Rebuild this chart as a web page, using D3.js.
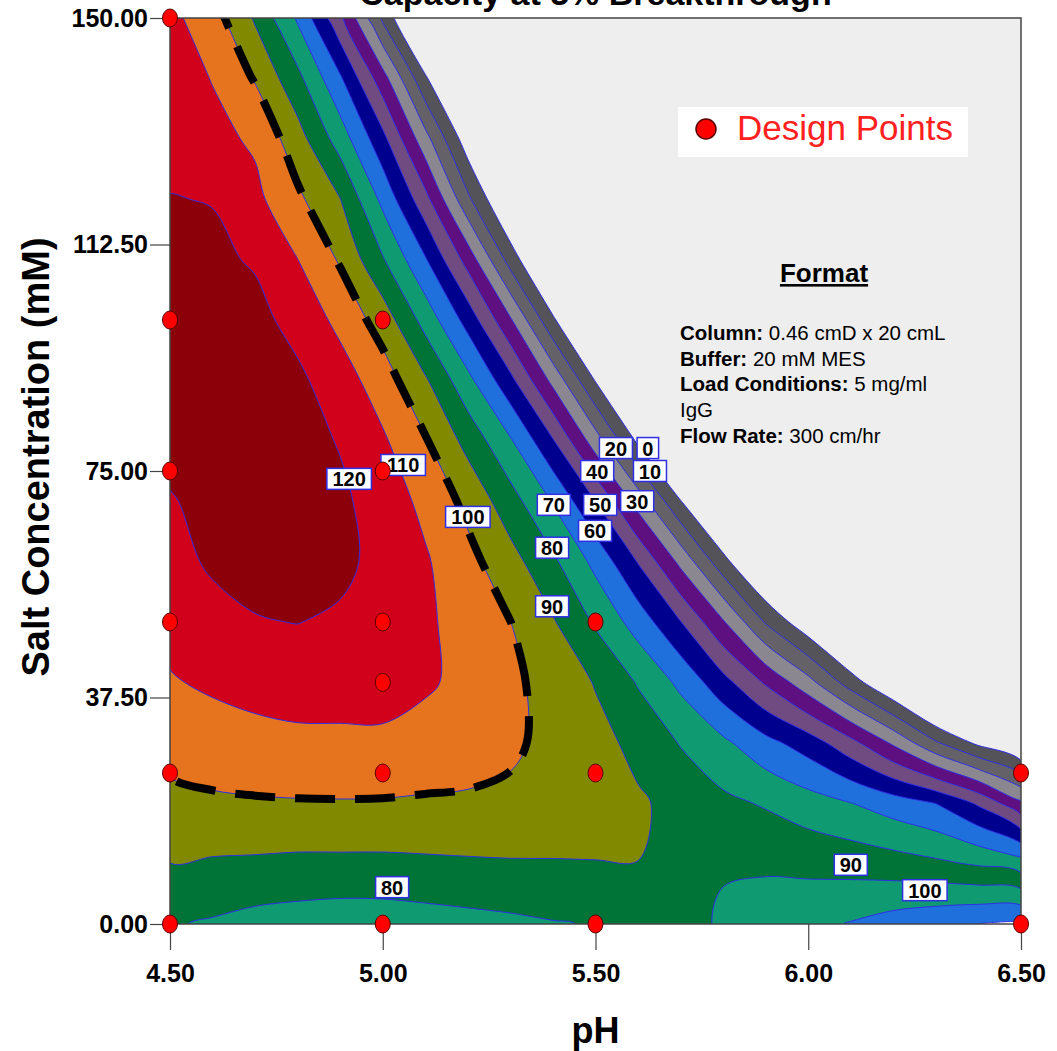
<!DOCTYPE html>
<html>
<head>
<meta charset="utf-8">
<script src="https://cdn.jsdelivr.net/npm/d3@7"></script>
<style>
  html, body { margin: 0; padding: 0; background: #fff; }
  svg { display: block; font-family: Arial, "Liberation Sans", sans-serif; }
</style>
</head>
<body>
<svg id="chart" width="1057" height="1051"></svg>
<script>
// Capacity at 5% breakthrough — contour plot over pH x salt

// grid: columns are pH, rows are salt (top row first)
const phValues = [4.5, 4.6, 4.7, 4.8, 4.9, 5.0, 5.1, 5.2, 5.3, 5.4, 5.5, 5.6, 5.7, 5.8, 5.9, 6.0, 6.1, 6.2, 6.3, 6.4, 6.5];
const saltValues = [150, 140, 130, 120, 110, 100, 90, 80, 70, 60, 50, 40, 30, 20, 10, 0];
const capacity = [
  [112.5, 104.5, 88.7, 68.5, 42.2, 8, -22.4, -52.7, -83, -100, -100, -100, -100, -100, -100, -100, -100, -100, -100, -100, -100],
  [115, 109.6, 99.2, 82.8, 61.3, 34.1, 1.6, -26, -53.8, -81.4, -100, -100, -100, -100, -100, -100, -100, -100, -100, -100, -100],
  [117.2, 112.8, 108.5, 94.1, 75.4, 52.9, 23.5, -6.2, -33, -60, -87, -100, -100, -100, -100, -100, -100, -100, -100, -100, -100],
  [120.3, 119.65, 112.5, 102, 90.2, 67.4, 43.3, 12.1, -14.3, -40.3, -66, -92, -100, -100, -100, -100, -100, -100, -100, -100, -100],
  [123.5, 122, 119, 110.1, 98.9, 80.9, 60.9, 36.1, 5.7, -19.8, -45.3, -70.8, -96, -100, -100, -100, -100, -100, -100, -100, -100],
  [125, 124.8, 123, 116.6, 107.4, 95.5, 76.3, 56.2, 31.2, 1.7, -22.9, -47.6, -72.3, -97, -100, -100, -100, -100, -100, -100, -100],
  [125.2, 125.8, 125.3, 122, 114.6, 104.9, 91.3, 72.9, 52.8, 27.2, -0.6, -24.4, -48.2, -72, -96, -100, -100, -100, -100, -100, -100],
  [123.3, 125.5, 125.5, 124, 119.3, 111.4, 100.9, 86.8, 71.1, 50.8, 24.7, -1.9, -25.4, -48.8, -72, -95, -100, -100, -100, -100, -100],
  [119.2, 123.2, 124.5, 124, 122, 115.3, 107.6, 97.3, 84.2, 69.1, 49.9, 25.7, 0.4, -20, -40, -60, -80, -100, -100, -100, -100],
  [116.5, 121.5, 123, 123.3, 122.5, 116.8, 111.1, 103, 93.7, 81.9, 67.2, 49.4, 27.4, 3.3, -17, -35.4, -55, -76, -96, -100, -100],
  [113, 116.5, 119.5, 120.2, 118.5, 114.4, 111.4, 106.6, 100.1, 90.9, 78.7, 65.6, 50.3, 31, 9, -7.6, -25.3, -48, -71, -90, -95],
  [109.2, 111.5, 113.2, 114, 114.2, 114.3, 111.6, 106.9, 102.1, 96.3, 89.4, 79.2, 67.7, 53.5, 38.8, 23.4, 5.1, -11.8, -30, -45.8, -53],
  [104, 105.5, 107, 108, 108, 108, 105.5, 104, 101.5, 97.6, 93.1, 87.4, 79.4, 72, 63, 55.2, 43.1, 28.3, 11.2, -2.3, -12.8],
  [97, 98.5, 99, 99.3, 99.4, 99.3, 99, 98.8, 98.3, 96.5, 94.5, 91.2, 87.2, 82.3, 79, 74.4, 70.2, 65, 59.8, 48.5, 31.8],
  [89.9, 88.9, 88.45, 87.8, 87.8, 87.8, 88.3, 88.8, 89.2, 89.4, 89.7, 89.94, 89.7, 89.5, 89, 87.6, 86.2, 84.3, 81.9, 78.9, 74.4],
  [80.8, 78.9, 76.5, 75.3, 74.3, 74.5, 75.6, 76.8, 77.95, 79.4, 80.5, 84, 87.8, 90.8, 93.6, 97, 100.6, 104.5, 107.5, 110.2, 111.6]
];

const levels = [0, 10, 20, 30, 40, 50, 60, 70, 80, 90, 100, 110, 120];
const bandColors = ["#545359", "#646169", "#8b8791", "#5e0f80", "#6f4b82", "#00008e", "#1f6fdd",
                    "#0f9a72", "#007337", "#808900", "#e6731e", "#d1001b", "#8b0009"];
// the low-salt / high-pH corner is shaded with its own colours
const cornerColors = { 90: "#0f9a72", 100: "#1f6fdd", 110: "#ffffff" };

const designPoints = [
  [4.5, 150], [4.5, 100], [4.5, 75], [4.5, 50], [4.5, 25], [4.5, 0],
  [5.0, 100], [5.0, 75], [5.0, 50], [5.0, 40], [5.0, 25], [5.0, 0],
  [5.5, 50], [5.5, 25], [5.5, 0],
  [6.5, 25], [6.5, 0]
];

const phTicks = [4.5, 5.0, 5.5, 6.0, 6.5];
const saltTicks = [0, 37.5, 75, 112.5, 150];

const contourLabels = [
  { level: 120, ph: 4.921, salt: 73.7 },
  { level: 110, ph: 5.048, salt: 76.0 },
  { level: 100, ph: 5.200, salt: 67.4 },
  { level: 90, ph: 5.398, salt: 52.6 },
  { level: 80, ph: 5.398, salt: 62.3 },
  { level: 70, ph: 5.402, salt: 69.4 },
  { level: 60, ph: 5.499, salt: 65.1 },
  { level: 50, ph: 5.511, salt: 69.4 },
  { level: 40, ph: 5.504, salt: 75.0 },
  { level: 30, ph: 5.598, salt: 70.0 },
  { level: 20, ph: 5.548, salt: 78.8 },
  { level: 0, ph: 5.623, salt: 78.8 },
  { level: 10, ph: 5.628, salt: 75.0 },
  { level: 80, ph: 5.022, salt: 6.1 },
  { level: 90, ph: 6.100, salt: 9.8 },
  { level: 100, ph: 6.274, salt: 5.6 }
];

const formatLines = [
  ["Column:", " 0.46 cmD x 20 cmL"],
  ["Buffer:", " 20 mM MES"],
  ["Load Conditions:", " 5 mg/ml"],
  ["", "IgG"],
  ["Flow Rate:", " 300 cm/hr"]
];

const svg = d3.select("#chart");
const plot = { left: 170, right: 1021, top: 18, bottom: 924 };

const x = d3.scaleLinear().domain([4.5, 6.5]).range([plot.left, plot.right]);
const y = d3.scaleLinear().domain([0, 150]).range([plot.bottom, plot.top]);

svg.append("clipPath").attr("id", "plot-clip")
  .append("rect")
  .attr("x", plot.left).attr("y", plot.top)
  .attr("width", plot.right - plot.left).attr("height", plot.bottom - plot.top);

// background for the region below 0
svg.append("rect")
  .attr("x", plot.left).attr("y", plot.top)
  .attr("width", plot.right - plot.left).attr("height", plot.bottom - plot.top)
  .attr("fill", "#eeeeee");

// contours
const nx = phValues.length, ny = saltValues.length;
const contours = d3.contours().size([nx, ny]).thresholds(levels)(capacity.flat());
const gridPh = d3.scaleLinear().domain([0.5, nx - 0.5]).range([phValues[0], phValues[nx - 1]]);
const gridSalt = d3.scaleLinear().domain([0.5, ny - 0.5]).range([saltValues[0], saltValues[ny - 1]]);

const smoothRing = d3.line().curve(d3.curveCatmullRomClosed.alpha(0.5));
const polyPath = poly => poly
  .map(ring => smoothRing(ring.slice(0, -1).map(p => [x(gridPh(p[0])), y(gridSalt(p[1]))])))
  .join("");

const shapes = [];
contours.forEach((c, i) => {
  c.coordinates.forEach(poly => {
    const ring = poly[0];
    const cph = d3.mean(ring, p => gridPh(p[0]));
    const csalt = d3.mean(ring, p => gridSalt(p[1]));
    const corner = cph > 5.75 && csalt < 25;
    const fill = corner && cornerColors[c.value] ? cornerColors[c.value] : bandColors[i];
    shapes.push({ level: c.value, corner, fill, d: polyPath(poly) });
  });
});

const g = svg.append("g").attr("clip-path", "url(#plot-clip)");

g.selectAll("path.band")
  .data(shapes)
  .join("path")
  .attr("class", "band")
  .attr("d", d => d.d)
  .attr("fill", d => d.fill)
  .attr("fill-rule", "evenodd")
  .attr("stroke", "none");

g.selectAll("path.line")
  .data(shapes)
  .join("path")
  .attr("class", "line")
  .attr("d", d => d.d)
  .attr("fill", "none")
  .attr("stroke", "#2f2fe6")
  .attr("stroke-width", 1);

// dashed 100 boundary
g.selectAll("path.dash")
  .data(shapes.filter(s => s.level === 100 && !s.corner))
  .join("path")
  .attr("class", "dash")
  .attr("d", d => d.d)
  .attr("fill", "none")
  .attr("stroke", "#000")
  .attr("stroke-width", 8)
  .attr("stroke-dasharray", "40,20");

// frame
svg.append("rect")
  .attr("x", plot.left).attr("y", plot.top)
  .attr("width", plot.right - plot.left).attr("height", plot.bottom - plot.top)
  .attr("fill", "none").attr("stroke", "#444").attr("stroke-width", 1.5);

// axes
const yAxis = svg.append("g")
  .attr("transform", `translate(${plot.left},0)`)
  .call(d3.axisLeft(y).tickValues(saltTicks).tickFormat(d3.format(".2f")).tickSize(20).tickPadding(2));
const xAxis = svg.append("g")
  .attr("transform", `translate(0,${plot.bottom})`)
  .call(d3.axisBottom(x).tickValues(phTicks).tickFormat(d3.format(".2f")).tickSize(26).tickPadding(14));
[yAxis, xAxis].forEach(a => {
  a.select(".domain").remove();
  a.selectAll(".tick line").attr("stroke", "#444").attr("stroke-width", 1.2);
  a.selectAll(".tick text")
    .attr("fill", "#000")
    .attr("font-family", "Arial, 'Liberation Sans', sans-serif")
    .attr("font-size", 25)
    .attr("font-weight", "bold");
});

// contour labels
const labels = svg.append("g").selectAll("g")
  .data(contourLabels)
  .join("g")
  .attr("transform", d => `translate(${x(d.ph)},${y(d.salt)})`);
labels.append("rect")
  .attr("x", d => -(String(d.level).length * 11.5 + 10) / 2)
  .attr("y", -10.5)
  .attr("width", d => String(d.level).length * 11.5 + 10)
  .attr("height", 21)
  .attr("fill", "#fff")
  .attr("stroke", "#2f2fe6")
  .attr("stroke-width", 1.5);
labels.append("text")
  .attr("text-anchor", "middle")
  .attr("y", 7.5)
  .attr("font-size", 20)
  .attr("font-weight", "bold")
  .text(d => d.level);

// design points
svg.append("g").selectAll("ellipse")
  .data(designPoints)
  .join("ellipse")
  .attr("cx", d => x(d[0]))
  .attr("cy", d => y(d[1]))
  .attr("rx", 7.5)
  .attr("ry", 9)
  .attr("fill", "#ff0000")
  .attr("stroke", "#5a0000")
  .attr("stroke-width", 1);

// legend
svg.append("rect")
  .attr("x", 678).attr("y", 107).attr("width", 290).attr("height", 50)
  .attr("fill", "#fff");
svg.append("circle")
  .attr("cx", 706).attr("cy", 129).attr("r", 10)
  .attr("fill", "#ff0000").attr("stroke", "#5a0000").attr("stroke-width", 1.5);
svg.append("text")
  .attr("x", 737).attr("y", 140)
  .attr("font-size", 35)
  .attr("fill", "#ff2020")
  .text("Design Points");

// format notes
svg.append("text")
  .attr("x", 824).attr("y", 282)
  .attr("text-anchor", "middle")
  .attr("font-size", 26)
  .attr("font-weight", "bold")
  .attr("text-decoration", "underline")
  .text("Format");
formatLines.forEach((ln, i) => {
  const t = svg.append("text")
    .attr("x", 680).attr("y", 340 + i * 25.7)
    .attr("font-size", 20.5)
    .style("white-space", "pre");
  if (ln[0]) t.append("tspan").attr("font-weight", "bold").text(ln[0]);
  t.append("tspan").text(ln[1]);
});

// titles
svg.append("text")
  .attr("x", (plot.left + plot.right) / 2).attr("y", 5)
  .attr("text-anchor", "middle")
  .attr("font-size", 34)
  .attr("font-weight", "bold")
  .text("Capacity at 5% Breakthrough");
svg.append("text")
  .attr("x", (plot.left + plot.right) / 2).attr("y", 1043)
  .attr("text-anchor", "middle")
  .attr("font-size", 36)
  .attr("font-weight", "bold")
  .text("pH");
svg.append("text")
  .attr("transform", "translate(49,457) rotate(-90)")
  .attr("text-anchor", "middle")
  .attr("font-size", 38)
  .attr("font-weight", "bold")
  .text("Salt Concentration (mM)");
</script>
</body>
</html>
